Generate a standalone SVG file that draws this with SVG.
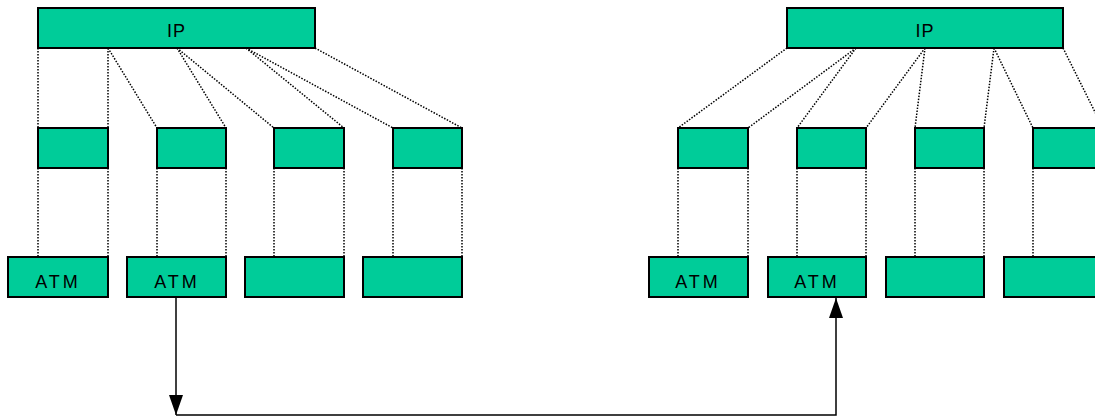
<svg xmlns="http://www.w3.org/2000/svg" width="1095" height="419" viewBox="0 0 1095 419">
<style>
.box{fill:#00CC99;stroke:#000;stroke-width:2}
.dot{stroke:#000;stroke-width:1.5;stroke-dasharray:1.5 1.5;fill:none}
.arr{stroke:#000;stroke-width:1.5;fill:none}
.lbl{font-family:"Liberation Sans",Arial,sans-serif;font-size:18px;fill:#000;text-anchor:middle}
.atm{letter-spacing:3px}
</style>
<defs>
<marker id="ah2" viewBox="0 0 20 14" refX="20" refY="7" markerWidth="20" markerHeight="14" markerUnits="userSpaceOnUse" orient="auto">
<path d="M0,0 L20,7 L0,14 Z" fill="#000"/>
</marker>
</defs>
<g id="connectors">
<g class="dot">
<line x1="38" y1="48" x2="38" y2="128"/>
<line x1="108" y1="48" x2="108" y2="128"/>
<line x1="108" y1="48" x2="157" y2="128"/>
<line x1="177" y1="48" x2="226" y2="128"/>
<line x1="177" y1="48" x2="274" y2="128"/>
<line x1="246" y1="48" x2="344" y2="128"/>
<line x1="246" y1="48" x2="393" y2="128"/>
<line x1="315" y1="48" x2="462" y2="128"/>
<line x1="38" y1="168" x2="38" y2="257"/>
<line x1="108" y1="168" x2="108" y2="257"/>
<line x1="157" y1="168" x2="157" y2="257"/>
<line x1="226" y1="168" x2="226" y2="257"/>
<line x1="274" y1="168" x2="274" y2="257"/>
<line x1="344" y1="168" x2="344" y2="257"/>
<line x1="393" y1="168" x2="393" y2="257"/>
<line x1="462" y1="168" x2="462" y2="257"/>
<line x1="787" y1="48" x2="678" y2="128"/>
<line x1="856" y1="48" x2="748" y2="128"/>
<line x1="856" y1="48" x2="797" y2="128"/>
<line x1="925" y1="48" x2="866" y2="128"/>
<line x1="925" y1="48" x2="915" y2="128"/>
<line x1="994" y1="48" x2="984" y2="128"/>
<line x1="994" y1="48" x2="1033" y2="128"/>
<line x1="1063" y1="48" x2="1103" y2="128"/>
<line x1="678" y1="168" x2="678" y2="257"/>
<line x1="748" y1="168" x2="748" y2="257"/>
<line x1="797" y1="168" x2="797" y2="257"/>
<line x1="866" y1="168" x2="866" y2="257"/>
<line x1="915" y1="168" x2="915" y2="257"/>
<line x1="984" y1="168" x2="984" y2="257"/>
<line x1="1033" y1="168" x2="1033" y2="257"/>
</g>
<polyline class="arr" points="176,297 176,415" marker-end="url(#ah2)"/>
<polyline class="arr" points="176,415 836,415 836,298" marker-end="url(#ah2)"/>
</g>
<g id="ip-left"><rect class="box" x="38" y="8" width="277" height="40"/><text class="lbl" x="176.5" y="37" letter-spacing="1">IP</text></g>
<g id="ip-right"><rect class="box" x="787" y="8" width="276" height="40"/><text class="lbl" x="925" y="37" letter-spacing="1">IP</text></g>
<g id="mid-l1"><rect class="box" x="38" y="128" width="70" height="40"/></g>
<g id="mid-l2"><rect class="box" x="157" y="128" width="69" height="40"/></g>
<g id="mid-l3"><rect class="box" x="274" y="128" width="70" height="40"/></g>
<g id="mid-l4"><rect class="box" x="393" y="128" width="69" height="40"/></g>
<g id="mid-r1"><rect class="box" x="678" y="128" width="70" height="40"/></g>
<g id="mid-r2"><rect class="box" x="797" y="128" width="69" height="40"/></g>
<g id="mid-r3"><rect class="box" x="915" y="128" width="69" height="40"/></g>
<g id="mid-r4"><rect class="box" x="1033" y="128" width="70" height="40"/></g>
<g id="atm-l1"><rect class="box" x="8" y="257" width="100" height="40"/><text class="lbl atm" x="58" y="288">ATM</text></g>
<g id="atm-l2"><rect class="box" x="127" y="257" width="99" height="40"/><text class="lbl atm" x="177" y="288">ATM</text></g>
<g id="atm-l3"><rect class="box" x="245" y="257" width="99" height="40"/></g>
<g id="atm-l4"><rect class="box" x="363" y="257" width="99" height="40"/></g>
<g id="atm-r1"><rect class="box" x="649" y="257" width="99" height="40"/><text class="lbl atm" x="698" y="288">ATM</text></g>
<g id="atm-r2"><rect class="box" x="768" y="257" width="98" height="40"/><text class="lbl atm" x="817" y="288">ATM</text></g>
<g id="atm-r3"><rect class="box" x="886" y="257" width="98" height="40"/></g>
<g id="atm-r4"><rect class="box" x="1004" y="257" width="99" height="40"/></g>
</svg>
